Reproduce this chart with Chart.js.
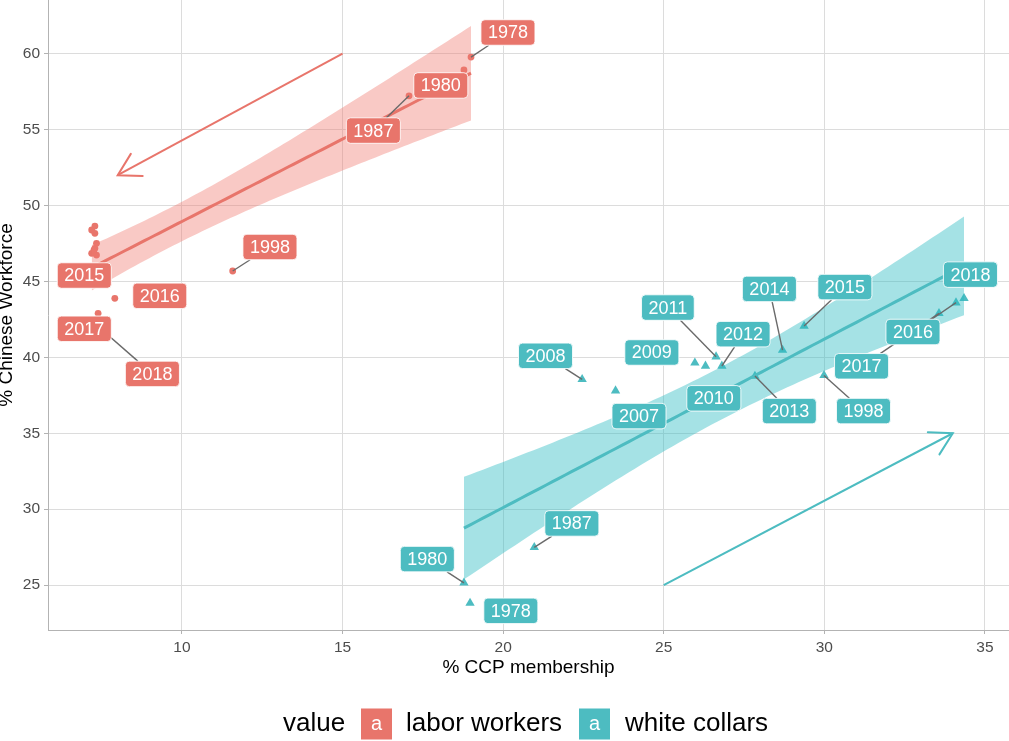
<!DOCTYPE html>
<html>
<head>
<meta charset="utf-8">
<script src="https://cdn.jsdelivr.net/npm/chart.js@4.4.0/dist/chart.umd.min.js"></script>
<style>
html,body{margin:0;padding:0;background:#fff;}
#wrap{width:1009px;height:741px;position:relative;overflow:hidden;}
canvas{display:block;}
</style>
</head>
<body>
<div id="wrap"><canvas id="c" width="1009" height="741"></canvas></div>
<script>
// ---------------- data ----------------
const years = [1978,1980,1987,1998,2007,2008,2009,2010,2011,2012,2013,2014,2015,2016,2017,2018];
const laborX = [19.00,18.78,17.07,11.58,7.29,7.19,7.29,7.34,7.29,7.19,7.34,7.26,7.32,7.91,7.39,7.25];
const laborY = [59.78,58.93,57.23,45.69,48.65,48.39,48.17,47.51,47.18,46.85,46.74,47.07,45.95,43.89,42.90,42.30];
const whiteX = [18.97,18.78,20.97,29.99,23.50,22.46,25.97,26.30,26.63,26.81,27.84,28.70,29.37,34.10,33.57,34.35];
const whiteY = [23.81,25.15,27.48,38.81,37.80,38.55,39.64,39.43,40.04,39.43,38.77,40.48,42.06,43.60,42.90,43.89];

// repelled label anchors (data units) and whether a leader segment is shown
const laborLabelYears = [1978,1980,1987,1998,2015,2016,2017,2018];
const laborLabelX = [20.15,18.06,15.96,12.74,6.96,9.31,6.96,9.08];
const laborLabelY = [61.40,57.91,54.94,47.27,45.39,44.05,41.88,38.91];
const laborLabelLink = [1,0,1,1,0,0,0,1];
const whiteLabelYears = [1978,1980,1987,1998,2007,2008,2009,2010,2011,2012,2013,2014,2015,2016,2017,2018];
const whiteLabelX = [20.24,17.64,22.14,31.22,24.23,21.32,24.63,26.56,25.13,27.47,28.91,28.29,30.64,32.76,31.16,34.55];
const whiteLabelY = [23.30,26.71,29.06,36.46,36.13,40.10,40.32,37.30,43.28,41.53,36.46,44.51,44.63,41.67,39.41,45.45];
const whiteLabelLink = [0,1,1,1,0,1,0,0,1,1,1,1,1,1,1,0];

// arrows (data units)
const laborArrow = [[15,60],[8,52]];
const whiteArrow = [[25,25],[34,35]];

const seriesNames = ['labor workers','white collars'];
const legendTitle = 'value';
const xTitle = '% CCP membership';
const yTitle = '% Chinese Workforce';
const xRange = [5.83, 35.75];
const yRange = [22.04, 63.54];

// ---------------- styles ----------------
const RED = '#E8756B';
const TEAL = '#4DBCC1';
const RED_FILL = 'rgba(240,120,110,0.40)';
const TEAL_FILL = 'rgba(40,185,192,0.42)';
const FONT = '"Liberation Sans", Arial, Helvetica, sans-serif';

// ---------------- linear model with 95% CI (like geom_smooth(method="lm")) ----------------
function tQuantile975(df){
  const z = 1.959964;
  const z3=z*z*z, z5=z3*z*z, z7=z5*z*z;
  return z + (z3+z)/(4*df) + (5*z5+16*z3+3*z)/(96*df*df) + (3*z7+19*z5+17*z3-15*z)/(384*df*df*df);
}
function lmBand(xs, ys, n){
  const N = xs.length;
  const mx = xs.reduce((a,b)=>a+b,0)/N, my = ys.reduce((a,b)=>a+b,0)/N;
  let sxx=0, sxy=0;
  for(let i=0;i<N;i++){ sxx+=(xs[i]-mx)**2; sxy+=(xs[i]-mx)*(ys[i]-my); }
  const b = sxy/sxx, a = my - b*mx;
  let sse=0;
  for(let i=0;i<N;i++){ sse += (ys[i]-(a+b*xs[i]))**2; }
  const s = Math.sqrt(sse/(N-2));
  const t = tQuantile975(N-2);
  const x0 = Math.min(...xs), x1 = Math.max(...xs);
  const fit=[], lo=[], hi=[];
  for(let i=0;i<n;i++){
    const x = x0 + (x1-x0)*i/(n-1);
    const yh = a + b*x;
    const se = s*Math.sqrt(1/N + (x-mx)**2/sxx);
    fit.push({x, y:yh}); lo.push({x, y:yh - t*se}); hi.push({x, y:yh + t*se});
  }
  return {fit, lo, hi};
}
const laborFit = lmBand(laborX, laborY, 80);
const whiteFit = lmBand(whiteX, whiteY, 80);

const pts = (xs, ys) => xs.map((x,i)=>({x, y:ys[i]}));

// ---------------- plugins ----------------
const isMult = (v, step) => Math.abs(v/step - Math.round(v/step)) < 1e-6;

const arrowHeads = {
  id:'arrowHeads',
  afterDatasetsDraw(chart){
    const {ctx, scales:{x, y}} = chart;
    const draw = (arr, color) => {
      const x0 = x.getPixelForValue(arr[0][0]), y0 = y.getPixelForValue(arr[0][1]);
      const x1 = x.getPixelForValue(arr[1][0]), y1 = y.getPixelForValue(arr[1][1]);
      const ang = Math.atan2(y0-y1, x0-x1);
      const L = 25, h = Math.PI/6;
      ctx.save();
      ctx.strokeStyle = color; ctx.lineWidth = 2; ctx.lineCap='round';
      ctx.beginPath();
      ctx.moveTo(x1 + L*Math.cos(ang+h), y1 + L*Math.sin(ang+h));
      ctx.lineTo(x1, y1);
      ctx.lineTo(x1 + L*Math.cos(ang-h), y1 + L*Math.sin(ang-h));
      ctx.stroke();
      ctx.restore();
    };
    draw(laborArrow, RED);
    draw(whiteArrow, TEAL);
  }
};

function roundRect(ctx, x, y, w, h, r){
  ctx.beginPath();
  ctx.moveTo(x+r, y);
  ctx.lineTo(x+w-r, y); ctx.arcTo(x+w, y, x+w, y+r, r);
  ctx.lineTo(x+w, y+h-r); ctx.arcTo(x+w, y+h, x+w-r, y+h, r);
  ctx.lineTo(x+r, y+h); ctx.arcTo(x, y+h, x, y+h-r, r);
  ctx.lineTo(x, y+r); ctx.arcTo(x, y, x+r, y, r);
  ctx.closePath();
}

const yearLabels = {
  id:'yearLabels',
  afterDatasetsDraw(chart){
    const {ctx, scales:{x, y}} = chart;
    ctx.save();
    ctx.font = '18px ' + FONT;
    const groups = [
      {yrs:laborLabelYears, lx:laborLabelX, ly:laborLabelY, link:laborLabelLink, px:laborX, py:laborY, color:RED},
      {yrs:whiteLabelYears, lx:whiteLabelX, ly:whiteLabelY, link:whiteLabelLink, px:whiteX, py:whiteY, color:TEAL}
    ];
    const items = [];
    groups.forEach(g=>{
      g.yrs.forEach((yr,i)=>{
        const k = years.indexOf(yr);
        const cx = x.getPixelForValue(g.lx[i]), cy = y.getPixelForValue(g.ly[i]);
        const pxp = x.getPixelForValue(g.px[k]), pyp = y.getPixelForValue(g.py[k]);
        const text = String(yr);
        const w = ctx.measureText(text).width + 14, h = 25.5;
        items.push({cx, cy, pxp, pyp, w, h, text, color:g.color, link:g.link[i]});
      });
    });
    // leader segments
    ctx.strokeStyle = '#6a6a6a'; ctx.lineWidth = 1.4;
    items.forEach(it=>{
      if(!it.link) return;
      const dx = it.pxp - it.cx, dy = it.pyp - it.cy;
      const t = Math.min(Math.abs(dx)>1e-9 ? (it.w/2)/Math.abs(dx) : Infinity,
                         Math.abs(dy)>1e-9 ? (it.h/2)/Math.abs(dy) : Infinity);
      if(t >= 1) return;
      ctx.beginPath();
      ctx.moveTo(it.cx + dx*t, it.cy + dy*t);
      ctx.lineTo(it.pxp, it.pyp);
      ctx.stroke();
    });
    // label boxes
    ctx.textAlign='center'; ctx.textBaseline='middle';
    items.forEach(it=>{
      roundRect(ctx, it.cx-it.w/2, it.cy-it.h/2, it.w, it.h, 4);
      ctx.fillStyle = it.color; ctx.fill();
      ctx.strokeStyle = 'rgba(255,255,255,0.85)'; ctx.lineWidth = 1; ctx.stroke();
      ctx.fillStyle = '#ffffff';
      ctx.fillText(it.text, it.cx, it.cy+1);
    });
    ctx.restore();
  }
};

const legendPlugin = {
  id:'legendPlugin',
  afterDraw(chart){
    const {ctx} = chart;
    ctx.save();
    const cy = 724;
    ctx.textBaseline = 'middle'; ctx.textAlign = 'left';
    ctx.font = '26px ' + FONT; ctx.fillStyle = '#000';
    ctx.fillText(legendTitle, 283, cy);
    const keys = [[361, RED, seriesNames[0], 406], [579, TEAL, seriesNames[1], 625]];
    keys.forEach(([kx, col, name, tx])=>{
      ctx.fillStyle = col;
      ctx.fillRect(kx, cy-15.5, 31, 31);
      ctx.fillStyle = '#fff'; ctx.textAlign='center';
      ctx.font = '20px ' + FONT;
      ctx.fillText('a', kx+15.5, cy);
      ctx.textAlign='left'; ctx.fillStyle='#000';
      ctx.font = '26px ' + FONT;
      ctx.fillText(name, tx, cy);
    });
    ctx.restore();
  }
};

// ---------------- chart ----------------
const gridColor = (c) => isMult(c.tick.value, 5) ? '#dcdcdc' : '#efefef';
const tickColor = (c) => isMult(c.tick.value, 5) ? '#b3b3b3' : 'rgba(0,0,0,0)';
const keepQuarterSteps = (scale) => { scale.ticks = scale.ticks.filter(t => isMult(t.value, 2.5)); };

new Chart(document.getElementById('c'), {
  type:'line',
  data:{
    datasets:[
      {label:seriesNames[0], data:pts(laborX, laborY), showLine:false, pointStyle:'circle', pointRadius:3.4,
       pointBackgroundColor:RED, pointBorderWidth:0, order:10},
      {label:seriesNames[1], data:pts(whiteX, whiteY), showLine:false, pointStyle:'triangle', pointRadius:5.4,
       pointBackgroundColor:TEAL, pointBorderWidth:0, order:10},
      {label:'labor hi', data:laborFit.hi, pointRadius:0, borderWidth:0, fill:'+1', backgroundColor:RED_FILL, order:5},
      {label:'labor lo', data:laborFit.lo, pointRadius:0, borderWidth:0, fill:false, order:5},
      {label:'white hi', data:whiteFit.hi, pointRadius:0, borderWidth:0, fill:'+1', backgroundColor:TEAL_FILL, order:5},
      {label:'white lo', data:whiteFit.lo, pointRadius:0, borderWidth:0, fill:false, order:5},
      {label:'labor fit', data:laborFit.fit, pointRadius:0, borderWidth:3, borderColor:RED, fill:false, order:2},
      {label:'white fit', data:whiteFit.fit, pointRadius:0, borderWidth:3, borderColor:TEAL, fill:false, order:2},
      {label:'labor arrow', data:laborArrow.map(p=>({x:p[0],y:p[1]})), pointRadius:0, borderWidth:2, borderColor:RED, fill:false, order:1},
      {label:'white arrow', data:whiteArrow.map(p=>({x:p[0],y:p[1]})), pointRadius:0, borderWidth:2, borderColor:TEAL, fill:false, order:1}
    ]
  },
  options:{
    responsive:false, animation:false, events:[], devicePixelRatio:1,
    layout:{autoPadding:false, padding:{left:0, right:0, top:0, bottom:61}},
    plugins:{legend:{display:false}, tooltip:{enabled:false}},
    scales:{
      x:{
        type:'linear', min:xRange[0], max:xRange[1],
        afterBuildTicks:keepQuarterSteps,
        afterFit:(s)=>{ s.height = 50; s.paddingLeft = 0; s.paddingRight = 0; },
        ticks:{stepSize:2.5, includeBounds:false, autoSkip:false, maxRotation:0, padding:4, color:'#4d4d4d',
               font:{family:FONT, size:15.5},
               callback:(v)=> isMult(v,5) ? String(Math.round(v)) : null},
        grid:{color:gridColor, lineWidth:1, tickColor:tickColor, tickLength:4, drawTicks:true},
        border:{display:true, color:'#b3b3b3', width:1},
        title:{display:true, text:xTitle, color:'#000', font:{family:FONT, size:19}, padding:{top:0, bottom:0.6}}
      },
      y:{
        type:'linear', min:yRange[0], max:yRange[1],
        afterBuildTicks:keepQuarterSteps,
        afterFit:(s)=>{ s.width = 48; s.paddingTop = 0; s.paddingBottom = 0; },
        ticks:{stepSize:2.5, includeBounds:false, autoSkip:false, padding:4, color:'#4d4d4d',
               font:{family:FONT, size:15.5},
               callback:(v)=> isMult(v,5) ? String(Math.round(v)) : null},
        grid:{color:gridColor, lineWidth:1, tickColor:tickColor, tickLength:4, drawTicks:true},
        border:{display:true, color:'#b3b3b3', width:1},
        title:{display:true, text:yTitle, color:'#000', font:{family:FONT, size:19}, padding:{top:-4.4, bottom:0}}
      }
    }
  },
  plugins:[arrowHeads, yearLabels, legendPlugin]
});
</script>
</body>
</html>
